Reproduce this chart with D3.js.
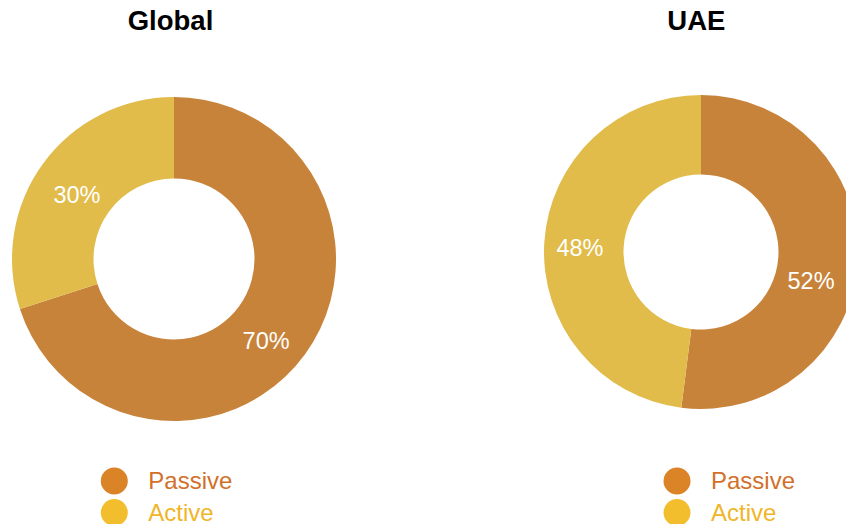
<!DOCTYPE html>
<html>
<head>
<meta charset="utf-8">
<script src="https://cdn.jsdelivr.net/npm/d3@7"></script>
<style>
  html, body { margin: 0; padding: 0; background: #fff; }
  svg { display: block; font-family: "Liberation Sans", Arial, sans-serif; }
</style>
</head>
<body>
<svg id="chart" width="846" height="524"></svg>
<script>
// Share of investors by style
const categories = ["Passive", "Active"];
const regions = ["Global", "UAE"];
const globalValues = [70, 30];
const uaeValues = [52, 48];

const sliceColors = ["#C8833A", "#E1BC4A"];
const legendDotColors = ["#DA8327", "#F2BE2D"];
const legendTextColors = ["#D2702A", "#F0B529"];

// Layout for each donut panel
const panels = [
  { title: regions[0], values: globalValues, cx: 174, cy: 259, outer: 162, inner: 80.5,
    titleX: 170.5, legendX: 114.3, labelNudge: [[-6, 10], [1, 7]] },
  { title: regions[1], values: uaeValues, cx: 701, cy: 252, outer: 157, inner: 77.5,
    titleX: 696.3, legendX: 677, labelNudge: [[-7, 21], [-4, 3]] }
];

const svg = d3.select("#chart");

const pie = d3.pie().sort(null).value(d => d.value);

panels.forEach(p => {
  const data = categories.map((c, i) => ({ category: c, value: p.values[i], idx: i }));
  const arcs = pie(data);
  const arc = d3.arc().innerRadius(p.inner).outerRadius(p.outer);

  const g = svg.append("g").attr("transform", `translate(${p.cx},${p.cy})`);

  g.selectAll("path.slice")
    .data(arcs)
    .join("path")
    .attr("class", "slice")
    .attr("d", arc)
    .attr("fill", d => sliceColors[d.data.idx]);

  g.selectAll("text.pct")
    .data(arcs)
    .join("text")
    .attr("class", "pct")
    .attr("transform", d => {
      const [x, y] = arc.centroid(d);
      const [nx, ny] = p.labelNudge[d.data.idx];
      return `translate(${x + nx},${y + ny})`;
    })
    .attr("text-anchor", "middle")
    .attr("dy", "0.35em")
    .attr("fill", "#ffffff")
    .attr("font-size", 23.5)
    .text(d => d.data.value + "%");

  // Title
  svg.append("text")
    .attr("x", p.titleX)
    .attr("y", 30)
    .attr("text-anchor", "middle")
    .attr("font-size", 27.5)
    .attr("font-weight", "bold")
    .attr("fill", "#000")
    .text(p.title);

  // Legend
  const legend = svg.append("g")
    .attr("transform", `translate(${p.legendX},481)`);
  const items = legend.selectAll("g.item")
    .data(categories)
    .join("g")
    .attr("class", "item")
    .attr("transform", (d, i) => `translate(0,${i * 31.5})`);
  items.append("circle")
    .attr("r", 13.5)
    .attr("fill", (d, i) => legendDotColors[i]);
  items.append("text")
    .attr("x", 34)
    .attr("dy", "0.35em")
    .attr("font-size", 24)
    .attr("fill", (d, i) => legendTextColors[i])
    .text(d => d);
});
</script>
</body>
</html>
